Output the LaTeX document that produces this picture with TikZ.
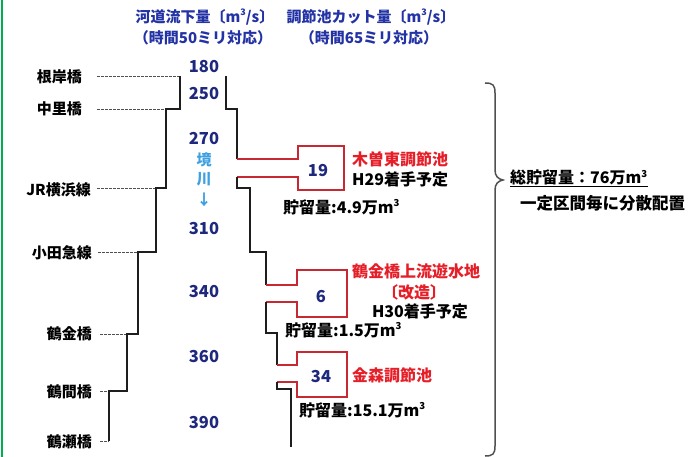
\documentclass[tikz,border=0pt]{standalone}
\usepackage{fontspec}
\setmainfont{Noto Sans CJK JP}
\newcommand{\myfs}[1]{\fontsize{#1}{#1}\selectfont}
\newcommand{\cubic}{m\raisebox{0.42em}{\fontsize{0.6em}{0.6em}\selectfont 3}}
\definecolor{navy}{RGB}{30,40,125}
\definecolor{hdrblue}{RGB}{35,50,165}
\definecolor{riverblue}{RGB}{60,160,225}
\definecolor{redtxt}{RGB}{230,30,40}
\definecolor{redline}{RGB}{200,40,50}
\definecolor{bankblack}{RGB}{30,30,30}
\definecolor{dashgray}{RGB}{80,80,80}
\definecolor{framegreen}{RGB}{0,175,80}
\begin{document}
\begin{tikzpicture}[x=1bp,y=-1bp,
  every node/.style={inner sep=0pt,font=\bfseries},
  hdr/.style={text=hdrblue,font=\bfseries\myfs{15bp}},
  num/.style={text=navy,font=\bfseries\myfs{16.5bp}},
  river/.style={text=riverblue,font=\bfseries\myfs{15bp}},
  bridge/.style={anchor=east,text=black,font=\bfseries\myfs{15bp}},
  redlbl/.style={text=redtxt,font=\bfseries\myfs{16bp}},
  blklbl/.style={text=black,font=\bfseries\myfs{16bp}},
  bank/.style={draw=bankblack,line width=1.4bp},
  redbank/.style={draw=redline,line width=1.8bp,line join=miter},
  dashline/.style={draw=dashgray,line width=0.9bp,dash pattern=on 2.5bp off 1.5bp}]
\useasboundingbox[fill=white] (0,0) rectangle (690,457);
\draw[framegreen,line width=2bp] (2,0) -- (2,457);

% headers
\node[hdr] (h1a) at (205,17) {河道流下量〔\cubic/s〕};
\node[hdr] (h1b) at (203,38) {（時間50ミリ対応）};
\node[hdr] (h2a) at (371,17) {調節池カット量〔\cubic/s〕};
\node[hdr] (h2b) at (369,38) {（時間65ミリ対応）};

% bridges
\node[bridge] (b1) at (82,77) {根岸橋};
\node[bridge] (b2) at (82,109) {中里橋};
\node[bridge] (b3) at (91,190) {JR横浜線};
\node[bridge] (b4) at (92,253) {小田急線};
\node[bridge] (b5) at (92,334) {鶴金橋};
\node[bridge] (b6) at (92,392) {鶴間橋};
\node[bridge] (b7) at (92,442) {鶴瀬橋};

\coordinate (d1) at (97,76);
\coordinate (d2) at (97,109);
\coordinate (d3) at (97,188);
\coordinate (d4) at (98,252);
\coordinate (d5) at (100,334);
\coordinate (d6) at (100,391);
\coordinate (d7) at (100,441);

% left bank corners
\coordinate (L1) at (180,76);
\coordinate (L2) at (166,109);
\coordinate (L3) at (156,188);
\coordinate (L4) at (138,252);
\coordinate (L5) at (127,334);
\coordinate (L6) at (109,391);
\coordinate (L7) at (109,441);

\draw[dashline] (d1) -- (L1);
\draw[dashline] (d2) -- (L2);
\draw[dashline] (d3) -- (L3);
\draw[dashline] (d4) -- (L4);
\draw[dashline] (d5) -- (L5);
\draw[dashline] (d6) -- (L6);
\draw[dashline] (d7) -- (L7);

\draw[bank] (L1) -- (180,109) -- (L2) -- (166,188) -- (L3) -- (156,252) -- (L4)
  -- (138,334) -- (L5) -- (127,391) -- (L6) -- (L7);

% right bank
\draw[bank] (226,76) -- (226,109) -- (237,109) -- (237,159);
\draw[redbank] (237,159) -- (298,159) -- (298,146) -- (344,146) -- (344,190)
  -- (298,190) -- (298,177) -- (237,177);
\draw[bank] (237,177) -- (237,188) -- (250,188) -- (250,252) -- (266,252) -- (266,285);
\draw[redbank] (266,285) -- (297,285) -- (297,270) -- (347,270) -- (347,317)
  -- (297,317) -- (297,302) -- (266,302);
\draw[bank] (266,302) -- (266,333) -- (277,333) -- (277,365);
\draw[redbank] (277,365) -- (297,365) -- (297,352) -- (347,352) -- (347,397)
  -- (297,397) -- (297,382) -- (277,382);
\draw[bank] (277,382) -- (277,389) -- (291,389) -- (291,447);

% flow numbers
\node[num] (n180) at (204,67) {180};
\node[num] (n250) at (204,94) {250};
\node[num] (n270) at (204,139) {270};
\node[river] (r1) at (204,160) {境};
\node[river] (r2) at (204,179) {川};
\node[river] (r3) at (204,200) {↓};
\node[num] (n310) at (204,229) {310};
\node[num] (n340) at (204,292) {340};
\node[num] (n360) at (204,357) {360};
\node[num] (n390) at (204,423) {390};

% cut numbers
\node[num] (c19) at (318,171) {19};
\node[num] (c6) at (321,297) {6};
\node[num] (c34) at (321,377) {34};

% pond labels
\node[redlbl,anchor=west] (p1) at (352,159) {木曽東調節池};
\node[blklbl,anchor=west] (p1b) at (352,179) {H29着手予定};
\node[blklbl,anchor=west] (p1c) at (283,207) {貯留量:4.9万\cubic};
\node[redlbl,anchor=west] (p2) at (352,271) {鶴金橋上流遊水地};
\node[redlbl] (p2a) at (414,292) {〔改造〕};
\node[blklbl] (p2b) at (420,311) {H30着手予定};
\node[blklbl,anchor=west] (p2c) at (285,330) {貯留量:1.5万\cubic};
\node[redlbl,anchor=west] (p3) at (352,375) {金森調節池};
\node[blklbl,anchor=west] (p3c) at (299,410) {貯留量:15.1万\cubic};

% brace
\draw[draw=dashgray,line width=1.5bp] (485,83) .. controls (493,83) and (495,85) .. (495,93)
  -- (495,170) .. controls (495,176) and (498,179) .. (503,180)
  .. controls (498,181) and (495,184) .. (495,190)
  -- (495,446) .. controls (495,454) and (493,456) .. (485,456);

\node[blklbl,anchor=base west] (tot) at (510,184) {総貯留量：76万\cubic};
\draw[black,line width=1.1bp] ([yshift=-2.5bp]tot.base west) -- ([yshift=-2.5bp]tot.base east);
\node[blklbl,anchor=west,font=\bfseries\myfs{16.5bp}] (tot2) at (520,203) {一定区間毎に分散配置};
\end{tikzpicture}
\end{document}
